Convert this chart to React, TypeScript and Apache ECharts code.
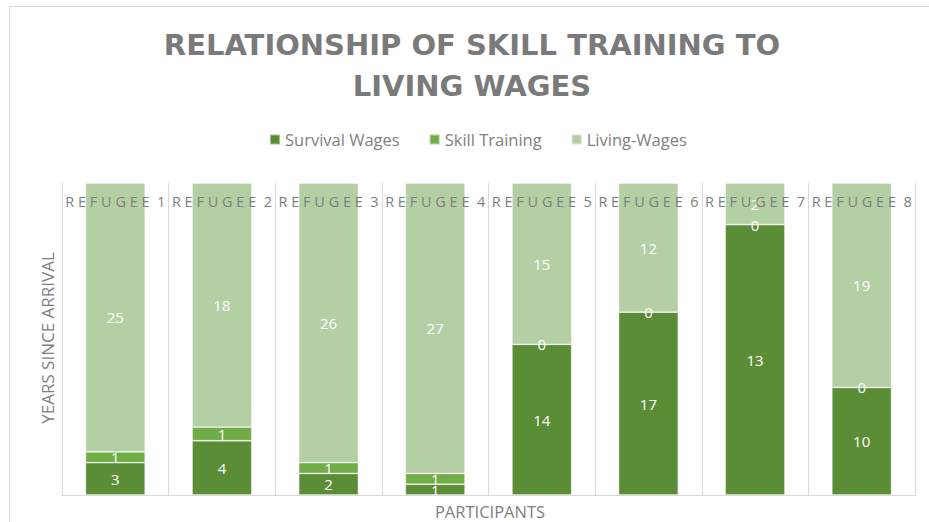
import React, { useEffect, useRef } from "react";
import * as echarts from "echarts";

const categories = ["REFUGEE 1", "REFUGEE 2", "REFUGEE 3", "REFUGEE 4", "REFUGEE 5", "REFUGEE 6", "REFUGEE 7", "REFUGEE 8"];
const survivalWages = [3, 4, 2, 1, 14, 17, 13, 10];
const skillTraining = [1, 1, 1, 1, 0, 0, 0, 0];
const livingWages = [25, 18, 26, 27, 15, 12, 2, 19];
const seriesNames = ["Survival Wages", "Skill Training", "Living-Wages"];
const seriesColors = ["#5b8d37", "#70ad47", "#b4cfa4"];

const FONT = "Open Sans";

export default function App() {
  const ref = useRef<HTMLDivElement>(null);
  useEffect(() => {
    if (!ref.current) return;
    const chart = echarts.init(ref.current, null, { renderer: "svg" });
    const raw = [survivalWages, skillTraining, livingWages];
    const totals = categories.map((_, i) => raw.reduce((s, arr) => s + arr[i], 0));
    const series = raw.map((arr, si) => ({
      name: seriesNames[si],
      type: "bar",
      stack: "total",
      barCategoryGap: "44%",
      data: arr.map((v, i) => (v / totals[i]) * 100),
      itemStyle: { color: seriesColors[si], borderColor: "rgba(255,255,255,0.45)", borderWidth: 0.8 },
      label: {
        show: true,
        position: "inside",
        color: "#ffffff",
        fontFamily: FONT,
        fontSize: 15,
        formatter: (p: any) => String(arr[p.dataIndex]),
      },
      z: 2,
    }));
    chart.setOption({
      animation: false,
      backgroundColor: "#ffffff",
      title: {
        text: "RELATIONSHIP OF SKILL TRAINING TO\nLIVING WAGES",
        left: 467,
        textAlign: "center",
        top: 19,
        textStyle: {
          fontFamily: "DejaVu Sans",
          fontWeight: "bold",
          fontSize: 29,
          color: "#7a7a7a",
          lineHeight: 41,
        },
      },
      legend: {
        top: 126,
        left: 264,
        itemWidth: 10,
        itemHeight: 10,
        itemGap: 29,
        icon: "rect",
        textStyle: { fontFamily: FONT, fontSize: 16.5, color: "#7f7f7f" },
        data: seriesNames,
      },
      grid: { left: 62, right: 14, top: 183, bottom: 27 },
      xAxis: {
        type: "category",
        position: "top",
        data: categories,
        z: 10,
        axisLine: { show: true, lineStyle: { color: "#d9d9d9", width: 1 } },
        axisTick: { show: false },
        splitLine: { show: true, interval: 0, lineStyle: { color: "#d9d9d9", width: 1 } },
        axisLabel: {
          inside: true,
          interval: 0,
          margin: 11,
          fontFamily: FONT,
          fontSize: 14.5,
          color: "#7f7f7f",
          formatter: (v: string) => v.split(" ")[0].split("").join(" ") + "  " + v.split(" ")[1],
        },
      },
      yAxis: {
        type: "value",
        min: 0,
        max: 100,
        interval: 100,
        axisLine: { show: false },
        axisTick: { show: false },
        axisLabel: { show: false },
        splitLine: { show: false },
      },
      graphic: [
        {
          type: "rect",
          shape: { x: 9.5, y: 6.5, width: 2000, height: 2000 },
          style: { fill: "none", stroke: "#d9d9d9", lineWidth: 1 },
          silent: true,
        },
        {
          type: "text",
          x: 47,
          y: 338,
          rotation: Math.PI / 2,
          style: {
            text: "YEARS SINCE ARRIVAL",
            fontFamily: FONT,
            fontSize: 17,
            fill: "#7f7f7f",
            align: "center",
            verticalAlign: "middle",
          },
        },
        {
          type: "text",
          x: 490,
          y: 511,
          style: {
            text: "PARTICIPANTS",
            fontFamily: FONT,
            fontSize: 16.5,
            fill: "#7f7f7f",
            align: "center",
            verticalAlign: "middle",
          },
        },
      ],
      series,
    });
    return () => chart.dispose();
  }, []);
  return <div ref={ref} style={{ position: "fixed", left: 0, top: 0, width: 929, height: 522 }} />;
}
